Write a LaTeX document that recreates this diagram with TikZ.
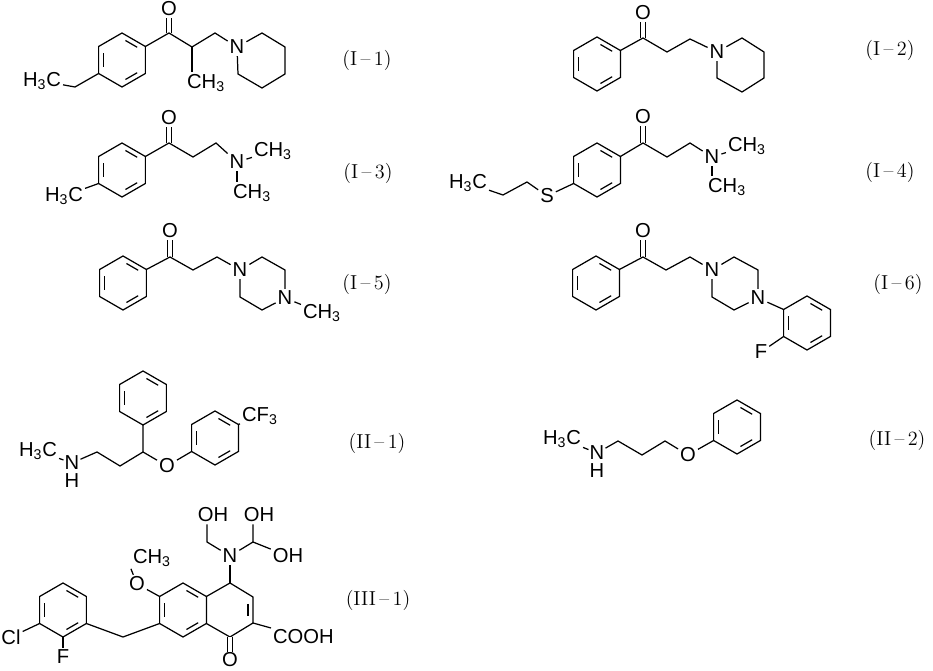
\documentclass[tikz,border=0pt]{standalone}
\usepackage{fontspec}
\setsansfont{Liberation Sans}
\usetikzlibrary{calc}

\tikzset{
  bond/.style={line width=0.7pt},
  dbl/.style={double, double distance=2.4pt, line width=0.6pt},
  atom/.style={font=\sffamily\fontsize{11.5}{13}\selectfont, inner sep=1pt},
  tag/.style={font=\rmfamily\fontsize{11.5}{13}\selectfont, inner sep=1pt}
}

% benzene ring: name, centre x, centre y
\newcommand{\benz}[3]{%
  \coordinate (#1) at (#2,#3);
  \foreach \k in {0,...,5}{\coordinate (#1-\k) at ($(#1)+(90+60*\k:27)$);}
  \draw[bond] (#1-0) -- (#1-1) -- (#1-2) -- (#1-3) -- (#1-4) -- (#1-5) -- cycle;
  \foreach \k/\j in {1/2,3/4,5/0}
    \draw[bond, shorten <=0.08cm, shorten >=0.08cm]
      ($(#1)+(90+60*\k:21.5)$) -- ($(#1)+(90+60*\j:21.5)$);
}

\begin{document}
\begin{tikzpicture}[x=0.02cm, y=-0.02cm]
  \useasboundingbox (0,0) rectangle (933,671);

  % (I-1)
  \benz{a}{122}{60}
  \coordinate (a1) at (75,87);
  \node[atom] (a2) at (42,81) {H\textsubscript{3}C};
  \coordinate (a3) at (169,33);
  \node[atom] (a4) at (169,9) {O};
  \coordinate (a5) at (192,47);
  \node[atom, anchor=north west] (a6) at (185,72) {CH\textsubscript{3}};
  \coordinate (a7) at (215,33);
  \node[atom] (a8) at (237,47) {N};
  \coordinate (a9) at (262,33);
  \coordinate (a10) at (285,47);
  \coordinate (a11) at (285,74);
  \coordinate (a12) at (262,88);
  \coordinate (a13) at (238,74);
  \draw[bond] (a-1) -- (a1) -- (a2);
  \draw[dbl] (a3) -- (a4);
  \draw[bond] (a-4) -- (a3) -- (a5) -- (a7) -- (a8);
  \draw[bond] (a5) -- (a5 |- a6.north);
  \draw[bond] (a8) -- (a9) -- (a10) -- (a11) -- (a12) -- (a13) -- (a8);
  \node[tag] (t1) at (367,60) {(I\,--\,1)};

  % (I-2)
  \benz{c}{597}{64}
  \coordinate (c1) at (643,38);
  \node[atom] (c2) at (643,13) {O};
  \coordinate (c3) at (667,52);
  \coordinate (c4) at (690,39);
  \node[atom] (c5) at (717,52) {N};
  \coordinate (c6) at (742,38);
  \coordinate (c7) at (764,52);
  \coordinate (c8) at (764,78);
  \coordinate (c9) at (742,92);
  \coordinate (c10) at (717,78);
  \draw[dbl] (c1) -- (c2);
  \draw[bond] (c-4) -- (c1) -- (c3) -- (c4) -- (c5);
  \draw[bond] (c5) -- (c6) -- (c7) -- (c8) -- (c9) -- (c10) -- (c5);
  \node[tag] (t2) at (890,50) {(I\,--\,2)};

  % (I-3)
  \benz{b}{122}{170}
  \node[atom] (b1) at (64,196) {H\textsubscript{3}C};
  \coordinate (b2) at (169,143);
  \node[atom] (b3) at (169,118) {O};
  \coordinate (b4) at (193,157);
  \coordinate (b5) at (216,143);
  \node[atom] (b6) at (237,162) {N};
  \node[atom] (b7) at (273,151) {CH\textsubscript{3}};
  \node[atom, anchor=north west] (b8) at (231,182) {CH\textsubscript{3}};
  \draw[bond] (b-1) -- (b1);
  \draw[dbl] (b2) -- (b3);
  \draw[bond] (b-4) -- (b2) -- (b4) -- (b5) -- (b6) -- (b7);
  \draw[bond] (b6) -- (b6 |- b8.north);
  \node[tag] (t3) at (368,173) {(I\,--\,3)};

  % (I-4)
  \benz{d}{597}{170}
  \node[atom] (d1) at (547,196) {S};
  \coordinate (d2) at (527,182);
  \coordinate (d3) at (503,195);
  \node[atom] (d4) at (468,183) {H\textsubscript{3}C};
  \coordinate (d5) at (643,143);
  \node[atom] (d6) at (643,117) {O};
  \coordinate (d7) at (667,157);
  \coordinate (d8) at (690,143);
  \node[atom] (d9) at (712,157) {N};
  \node[atom] (d10) at (747,146) {CH\textsubscript{3}};
  \node[atom, anchor=north west] (d11) at (706,176) {CH\textsubscript{3}};
  \draw[bond] (d-1) -- (d1) -- (d2) -- (d3) -- (d4);
  \draw[dbl] (d5) -- (d6);
  \draw[bond] (d-4) -- (d5) -- (d7) -- (d8) -- (d9) -- (d10);
  \draw[bond] (d9) -- (d9 |- d11.north);
  \node[tag] (t4) at (890,172) {(I\,--\,4)};

  % (I-5)
  \benz{e}{123}{283}
  \coordinate (e1) at (170,257);
  \node[atom] (e2) at (170,231) {O};
  \coordinate (e3) at (193,270);
  \coordinate (e4) at (217,257);
  \node[atom] (e5) at (240,270) {N};
  \coordinate (e6) at (262,257);
  \coordinate (e7) at (285,270);
  \node[atom] (e8) at (285,298) {N};
  \coordinate (e9) at (262,310);
  \coordinate (e10) at (240,297);
  \node[atom] (e11) at (322,313) {CH\textsubscript{3}};
  \draw[dbl] (e1) -- (e2);
  \draw[bond] (e-4) -- (e1) -- (e3) -- (e4) -- (e5);
  \draw[bond] (e5) -- (e6) -- (e7) -- (e8) -- (e9) -- (e10) -- (e5);
  \draw[bond] (e8) -- (e11);
  \node[tag] (t5) at (367,284) {(I\,--\,5)};

  % (I-6)
  \benz{f}{596}{283}
  \coordinate (f1) at (643,257);
  \node[atom] (f2) at (643,231) {O};
  \coordinate (f3) at (666,270);
  \coordinate (f4) at (690,257);
  \node[atom] (f5) at (712,270) {N};
  \coordinate (f6) at (734,257);
  \coordinate (f7) at (758,270);
  \node[atom] (f8) at (758,298) {N};
  \coordinate (f9) at (734,310);
  \coordinate (f10) at (712,297);
  \benz{g}{807}{323}
  \node[atom] (f11) at (761,352) {F};
  \draw[dbl] (f1) -- (f2);
  \draw[bond] (f-4) -- (f1) -- (f3) -- (f4) -- (f5);
  \draw[bond] (f5) -- (f6) -- (f7) -- (f8) -- (f9) -- (f10) -- (f5);
  \draw[bond] (f8) -- (g-2);
  \draw[bond] (g-1) -- (f11);
  \node[tag] (t6) at (898,284) {(I\,--\,6)};

  % (II-1)
  \benz{h}{143}{398}
  \coordinate (h1) at (143,452);
  \node[atom] (h2) at (167,466) {O};
  \benz{i}{215}{438}
  \node[atom, anchor=west] (h3) at (240,416) {CF\textsubscript{3}};
  \coordinate (h4) at (120,466);
  \coordinate (h5) at (97,452);
  \node[atom, inner sep=0.5pt] (h6) at (72,463) {N};
  \node[atom, inner sep=0.5pt] (h7) at (72,481) {H};
  \node[atom] (h8) at (38,451) {H\textsubscript{3}C};
  \draw[bond] (h-0) -- (h1) -- (h2) -- (i-1);
  \draw[bond] (i-4) -- (h3);
  \draw[bond] (h1) -- (h4) -- (h5) -- (h6) -- (h8);
  \node[tag] (t7) at (377,443) {(II\,--\,1)};

  % (II-2)
  \node[atom] (j1) at (562,439) {H\textsubscript{3}C};
  \node[atom, inner sep=0.5pt] (j2) at (597,453) {N};
  \node[atom, inner sep=0.5pt] (j3) at (597,471) {H};
  \coordinate (j4) at (618,441);
  \coordinate (j5) at (642,455);
  \coordinate (j6) at (665,441);
  \node[atom] (j7) at (688,455) {O};
  \benz{j}{737}{427}
  \draw[bond] (j1) -- (j2) -- (j4) -- (j5) -- (j6) -- (j7) -- (j-1);
  \node[tag] (t8) at (897,440) {(II\,--\,2)};

  % (III-1)
  \benz{k}{63}{610}
  \node[atom] (k1) at (11,637) {Cl};
  \node[atom] (k2) at (63,657) {F};
  \coordinate (k3) at (123,637);
  \benz{l}{183}{610}
  \node[atom] (l1) at (137,584) {O};
  \node[atom] (l2) at (152,558) {CH\textsubscript{3}};
  \coordinate (m1) at (230,583);
  \coordinate (m2) at (253,597);
  \coordinate (m3) at (253,623);
  \coordinate (m4) at (230,637);
  \node[atom, inner sep=0.5pt] (m5) at (230,660) {O};
  \node[atom, anchor=west] (m6) at (271,637) {COOH};
  \node[atom] (n1) at (230,556) {N};
  \coordinate (n2) at (207,542);
  \node[atom] (n3) at (213,515) {OH};
  \coordinate (n4) at (253,542);
  \node[atom] (n5) at (259,515) {OH};
  \node[atom] (n6) at (288,556) {OH};
  \draw[bond] (k-1) -- (k1);
  \draw[bond] (k-0) -- (k2);
  \draw[bond] (k-5) -- (k3) -- (l-1);
  \draw[bond] (l-2) -- (l1) -- (l2.south west);
  \draw[bond] (l-4) -- (m1) -- (m2) -- (m3) -- (m4) -- (l-5);
  \draw[bond, shorten <=0.08cm, shorten >=0.08cm] ($(m2)+(-5,3)$) -- ($(m3)+(-5,-3)$);
  \draw[dbl] (m4) -- (m5);
  \draw[bond] (m3) -- (m6);
  \draw[bond] (m1) -- (n1);
  \draw[bond] (n1) -- (n2) -- (n2 |- n3.south);
  \draw[bond] (n1) -- (n4) -- (n4 |- n5.south);
  \draw[bond] (n4) -- (n6);
  \node[tag] (t9) at (378,600) {(III\,--\,1)};
\end{tikzpicture}
\end{document}
